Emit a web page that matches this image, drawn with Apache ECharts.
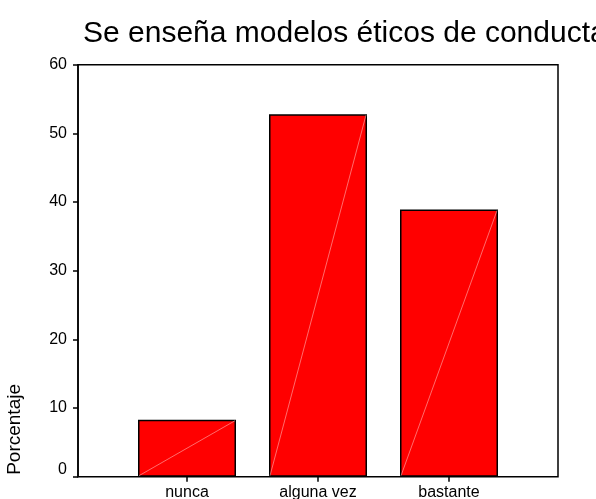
<!DOCTYPE html>
<html>
<head>
<meta charset="utf-8">
<script src="https://cdn.jsdelivr.net/npm/echarts@6/dist/echarts.min.js"></script>
<style>
html,body{margin:0;padding:0;background:#fff;}
#chart{width:596px;height:499px;}
</style>
</head>
<body>
<div id="chart"></div>
<script>
var titleText = "Se enseña modelos éticos de conducta";
var categories = ["nunca", "alguna vez", "bastante"];
var percentages = [8.3, 52.8, 38.9];
var yTicks = [0, 10, 20, 30, 40, 50, 60];
var yAxisName = "Porcentaje";

var FONT = "'Liberation Sans', Arial, sans-serif";
var BAR_W = 98;
var chart = echarts.init(document.getElementById('chart'), null, {renderer: 'canvas'});
chart.setOption({
  animation: false,
  backgroundColor: '#fff',
  title: {
    text: titleText,
    left: 78,
    top: 14,
    textStyle: {fontFamily: FONT, fontSize: 30, fontWeight: 'normal', color: '#000'}
  },
  grid: [
    {left: 78, right: 38, top: 64.7, bottom: 22.3, show: true, borderColor: '#000', borderWidth: 1.5, backgroundColor: 'transparent', outerBoundsMode: 'none', containLabel: false},
    {left: 121.5, right: 81.5, top: 64.7, bottom: 22.3, outerBoundsMode: 'none', containLabel: false}
  ],
  xAxis: [
    {gridIndex: 0, type: 'value', min: 0, max: 1, show: false},
    {gridIndex: 1, type: 'category', data: categories,
     axisLine: {show: false},
     axisTick: {show: true, alignWithLabel: true, length: 5, lineStyle: {color: '#000', width: 1.5}},
     axisLabel: {color: '#000', fontFamily: FONT, fontSize: 16, margin: 8}}
  ],
  yAxis: [
    {gridIndex: 0, type: 'value', min: yTicks[0], max: yTicks[yTicks.length-1], interval: 10,
     splitLine: {show: false},
     axisLine: {show: true, lineStyle: {color: '#000', width: 1.5}},
     axisTick: {show: true, length: 5, lineStyle: {color: '#000', width: 1.5}},
     axisLabel: {color: '#000', fontFamily: FONT, fontSize: 16, margin: 11,
       formatter: function (v) { return v === 0 ? '{z|0}' : String(v); },
       rich: {z: {fontFamily: FONT, fontSize: 16, color: '#000', padding: [0, 0, 14, 0]}}}},
    {gridIndex: 1, type: 'value', min: yTicks[0], max: yTicks[yTicks.length-1], show: false}
  ],
  graphic: [{
    type: 'text',
    left: 5,
    top: 384,
    style: {text: yAxisName, font: '19px ' + FONT, fill: '#000'},
    rotation: Math.PI/2,
    originX: 0, originY: 0
  }],
  series: [{
    type: 'bar',
    xAxisIndex: 1, yAxisIndex: 1,
    data: percentages,
    barWidth: BAR_W,
    itemStyle: {color: '#ff0000', borderColor: '#000', borderWidth: 1.5}
  }, {
    type: 'custom',
    xAxisIndex: 1, yAxisIndex: 1,
    data: percentages.map(function (v, i) { return [i, v]; }),
    z: 3,
    silent: true,
    renderItem: function (params, api) {
      var top = api.coord([api.value(0), api.value(1)]);
      var bot = api.coord([api.value(0), 0]);
      var h = BAR_W / 2 - 1;
      return {
        type: 'line',
        shape: {x1: bot[0] - h, y1: bot[1] - 1, x2: top[0] + h, y2: top[1] + 1},
        style: {stroke: 'rgba(255,200,200,0.9)', lineWidth: 0.6}
      };
    }
  }]
});
</script>
</body>
</html>
